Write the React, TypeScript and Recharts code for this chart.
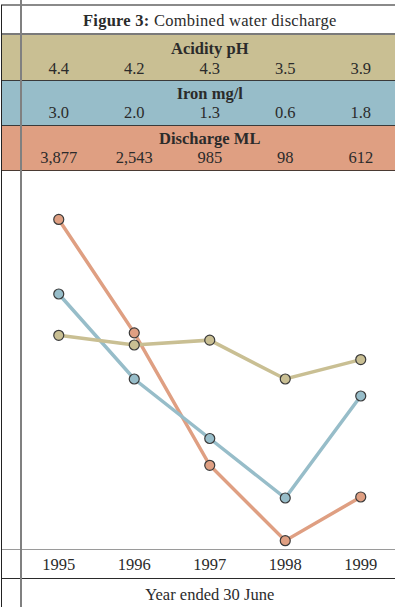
import React from 'react';
import { LineChart, Line, XAxis, YAxis } from 'recharts';

// Reporting years (year ended 30 June)
const years = ['1995', '1996', '1997', '1998', '1999'];
// Acidity, pH
const acidityPH = [4.4, 4.2, 4.3, 3.5, 3.9];
// Iron concentration, mg/l
const ironMgL = [3.0, 2.0, 1.3, 0.6, 1.8];
// Combined discharge, ML
const dischargeML = [3877, 2543, 985, 98, 612];

const TAN = '#C9BF93';
const BLUE = '#97BDC9';
const ORANGE = '#DF9F82';
const INK = '#2b2b2b';
const FONT = '"Liberation Serif", "Times New Roman", serif';
const FS = 16.5;

const chartData = years.map((year, i) => ({
  year,
  ph: acidityPH[i],
  iron: ironMgL[i],
  discharge: dischargeML[i],
}));

const fmt1 = (v: number) => v.toFixed(1);
const fmtInt = (v: number) => v.toLocaleString('en-US');

const bands = [
  { title: 'Acidity pH', values: acidityPH.map(fmt1), color: TAN, top: 35, height: 45, titleY: 48.7, valueY: 68.5 },
  { title: 'Iron mg/l', values: ironMgL.map(fmt1), color: BLUE, top: 81, height: 44, titleY: 94.3, valueY: 113.3 },
  { title: 'Discharge ML', values: dischargeML.map(fmtInt), color: ORANGE, top: 126, height: 44, titleY: 138.7, valueY: 158.2 },
];

const COL_LEFT = 21;
const COL_WIDTH = 377.5;
const TABLE_RIGHT = 399;

const TextRow = ({
  cy,
  children,
  bold,
  spacing,
}: {
  cy: number;
  children: React.ReactNode;
  bold?: boolean;
  spacing?: number;
}) => (
  <div
    style={{
      position: 'absolute',
      left: COL_LEFT,
      width: COL_WIDTH,
      top: cy - 10,
      height: 20,
      lineHeight: '20px',
      textAlign: 'center',
      fontWeight: bold ? 700 : 400,
      letterSpacing: spacing ?? 0,
      whiteSpace: 'nowrap',
    }}
  >
    {children}
  </div>
);

const ValueRow = ({ cy, values }: { cy: number; values: string[] }) => (
  <div
    style={{
      position: 'absolute',
      left: COL_LEFT,
      width: COL_WIDTH,
      top: cy - 10,
      height: 20,
      lineHeight: '20px',
      display: 'flex',
    }}
  >
    {values.map((v, i) => (
      <div key={i} style={{ flex: 1, textAlign: 'center' }}>
        {v}
      </div>
    ))}
  </div>
);

const HLine = ({ y, h, color }: { y: number; h: number; color: string }) => (
  <div style={{ position: 'absolute', left: 1, width: TABLE_RIGHT - 1, top: y, height: h, background: color }} />
);

const dot = (fill: string) => ({ r: 5, fill, stroke: '#3a3a3a', strokeWidth: 1.2 });

export default function App() {
  return (
    <div
      style={{
        position: 'absolute',
        left: 0,
        top: 0,
        width: 395,
        height: 607,
        overflow: 'hidden',
        background: '#fff',
        fontFamily: FONT,
        fontSize: FS,
        color: INK,
      }}
    >
      {/* coloured header bands */}
      {bands.map((b) => (
        <div
          key={b.title}
          style={{ position: 'absolute', left: 1, width: TABLE_RIGHT - 1, top: b.top, height: b.height, background: b.color }}
        />
      ))}

      {/* table rules */}
      <HLine y={4} h={2} color="#8a8a8a" />
      <HLine y={33} h={2} color="#7a7a7a" />
      <HLine y={80} h={1} color="#3a3a3a" />
      <HLine y={125} h={1} color="#3a3a3a" />
      <HLine y={170} h={1} color="#4a3a33" />
      <HLine y={549} h={1} color="#9a9a9a" />
      <HLine y={578} h={1} color="#2a2a2a" />

      {/* title */}
      <TextRow cy={20.5} spacing={0.25}>
        <b>Figure 3:</b> Combined water discharge
      </TextRow>

      {bands.map((b) => (
        <React.Fragment key={b.title}>
          <TextRow cy={b.titleY} bold>
            {b.title}
          </TextRow>
          <ValueRow cy={b.valueY} values={b.values} />
        </React.Fragment>
      ))}

      {/* line chart */}
      <div style={{ position: 'absolute', left: COL_LEFT, top: 170 }}>
        <LineChart width={COL_WIDTH} height={410} data={chartData} margin={{ top: 39, right: 0, bottom: 0, left: 0 }}>
          <XAxis
            dataKey="year"
            interval={0}
            padding={{ left: COL_WIDTH / 10, right: COL_WIDTH / 10 }}
            axisLine={false}
            tickLine={false}
            tickMargin={3}
            height={31}
            tick={{ fill: INK, fontSize: FS, fontFamily: FONT }}
          />
          <YAxis yAxisId="ph" hide domain={[0, 7]} />
          <YAxis yAxisId="iron" hide domain={[0, 4]} />
          <YAxis yAxisId="ml" hide domain={[0, 4000]} />
          <Line
            yAxisId="ml"
            dataKey="discharge"
            stroke={ORANGE}
            strokeWidth={3.5}
            dot={dot(ORANGE)}
            isAnimationActive={false}
          />
          <Line
            yAxisId="iron"
            dataKey="iron"
            stroke={BLUE}
            strokeWidth={3.5}
            dot={dot(BLUE)}
            isAnimationActive={false}
          />
          <Line
            yAxisId="ph"
            dataKey="ph"
            stroke={TAN}
            strokeWidth={3.5}
            dot={dot(TAN)}
            isAnimationActive={false}
          />
        </LineChart>
      </div>

      <TextRow cy={595}>Year ended 30 June</TextRow>

      {/* outer border and gutter rule */}
      <div style={{ position: 'absolute', left: 1, top: 5, width: 1, height: 602, background: '#222' }} />
      <div style={{ position: 'absolute', left: 20, top: 0, width: 2, height: 607, background: '#808080' }} />
    </div>
  );
}
